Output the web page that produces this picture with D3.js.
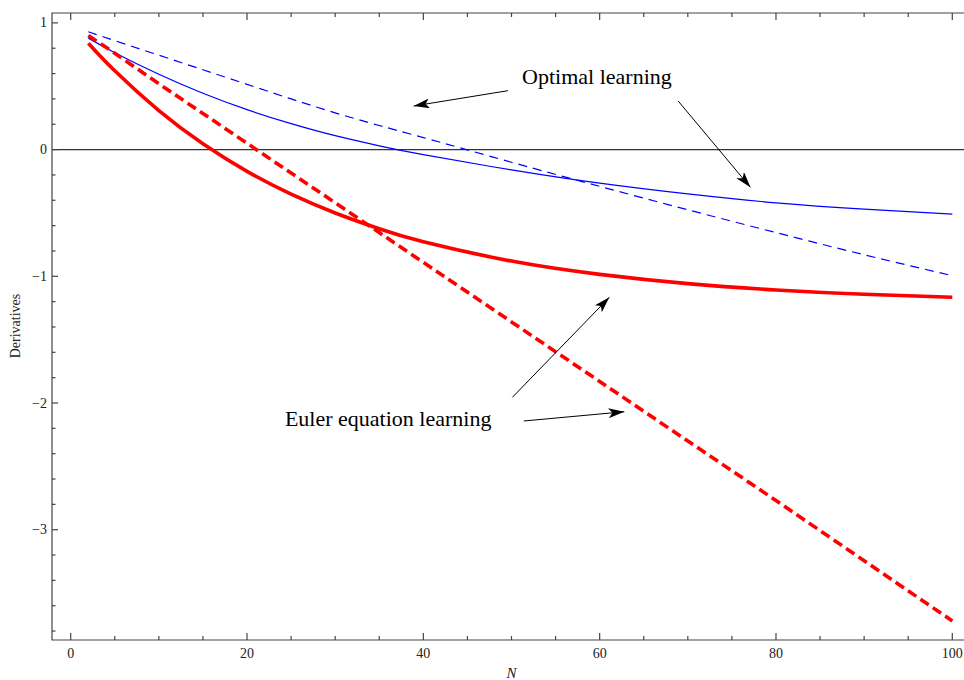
<!DOCTYPE html>
<html>
<head>
<meta charset="utf-8">
<script src="https://cdn.jsdelivr.net/npm/d3@7"></script>
<style>
  body { margin: 0; background: #fff; }
  svg { display: block; }
  text { font-family: "Liberation Serif", "Times New Roman", serif; fill: #222; }
</style>
</head>
<body>
<div id="chart"></div>
<script>
// values
const nValues = [2, 5, 10, 15, 20, 25, 30, 35, 40, 50, 60, 70, 80, 90, 100];
const optimalSolid = [0.88, 0.765, 0.595, 0.445, 0.315, 0.205, 0.11, 0.03, -0.04, -0.16, -0.265, -0.35, -0.42, -0.47, -0.51];
const optimalDashed = [0.93, 0.86, 0.745, 0.63, 0.515, 0.40, 0.29, 0.19, 0.095, -0.10, -0.29, -0.475, -0.655, -0.83, -0.995];
const eulerSolid = [0.84, 0.622, 0.308, 0.046, -0.172, -0.352, -0.50, -0.625, -0.728, -0.88, -0.985, -1.058, -1.108, -1.142, -1.165];
const eulerDashed = [0.90, 0.76, 0.52, 0.285, 0.05, -0.185, -0.42, -0.655, -0.89, -1.36, -1.83, -2.30, -2.77, -3.245, -3.72];

const xMajor = [0, 20, 40, 60, 80, 100];
const yMajor = [1, 0, -1, -2, -3];

// annotation anchors, in data units
const labels = [
    { text: "Optimal learning", n: 51.2, v: 0.52 },
    { text: "Euler equation learning", n: 24.3, v: -2.185 }
];
const arrows = [
    { from: [49.6, 0.465], to: [38.9, 0.344] },
    { from: [68.9, 0.384], to: [77.1, -0.298] },
    { from: [50.1, -1.955], to: [61.1, -1.166] },
    { from: [51.4, -2.142], to: [62.8, -2.069] }
];

const width = 964;
const height = 680;

const x = d3.scaleLinear().domain([0, 100]).range([70.7, 952.3]);
const y = d3.scaleLinear().domain([1, 0]).range([22.9, 149.6]);

const frame = { left: 52, top: 13, bottom: 640, right: 975 };

const svg = d3.select("#chart")
    .append("svg")
    .attr("width", width)
    .attr("height", height);

svg.append("rect").attr("width", width).attr("height", height).attr("fill", "#fff");

// arrowhead
svg.append("defs").append("marker")
    .attr("id", "head")
    .attr("viewBox", "0 0 16 10")
    .attr("refX", 16)
    .attr("refY", 5)
    .attr("markerWidth", 16)
    .attr("markerHeight", 10)
    .attr("markerUnits", "userSpaceOnUse")
    .attr("orient", "auto")
    .append("path")
    .attr("d", "M0,0 L16,5 L0,10 L4,5 Z")
    .attr("fill", "#000");

// zero line
svg.append("line")
    .attr("x1", frame.left).attr("x2", frame.right)
    .attr("y1", y(0)).attr("y2", y(0))
    .attr("stroke", "#333")
    .attr("stroke-width", 1.2);

// curves
const line = d3.line()
    .x((d, i) => x(nValues[i]))
    .y(d => y(d))
    .curve(d3.curveNatural);

const series = [
    { values: optimalDashed, color: "#0000ff", w: 1.2, dash: "9,6" },
    { values: optimalSolid, color: "#0000ff", w: 1.2, dash: null },
    { values: eulerDashed, color: "#ff0000", w: 3.6, dash: "10,5" },
    { values: eulerSolid, color: "#ff0000", w: 3.6, dash: null }
];

svg.selectAll("path.curve")
    .data(series)
    .enter()
    .append("path")
    .attr("class", "curve")
    .attr("d", d => line(d.values))
    .attr("fill", "none")
    .attr("stroke", d => d.color)
    .attr("stroke-width", d => d.w)
    .attr("stroke-dasharray", d => d.dash);

// frame and ticks
const g = svg.append("g").attr("stroke", "#444").attr("stroke-width", 1.2);
g.append("path")
    .attr("d", `M${frame.right},${frame.top} H${frame.left} V${frame.bottom} H${frame.right}`)
    .attr("fill", "none");

const xTicks = d3.range(0, 101, 5);
xTicks.forEach(t => {
    const len = t % 20 === 0 ? 7 : 4;
    g.append("line").attr("x1", x(t)).attr("x2", x(t))
        .attr("y1", frame.bottom).attr("y2", frame.bottom - len);
    g.append("line").attr("x1", x(t)).attr("x2", x(t))
        .attr("y1", frame.top).attr("y2", frame.top + len);
});

const yTicks = d3.range(-19, 6).map(k => k / 5);
yTicks.forEach(t => {
    const major = Math.abs(t - Math.round(t)) < 1e-9;
    g.append("line").attr("x1", frame.left).attr("x2", frame.left + (major ? 6 : 3.5))
        .attr("y1", y(t)).attr("y2", y(t));
});

svg.selectAll("text.xt")
    .data(xMajor)
    .enter()
    .append("text")
    .attr("x", d => x(d))
    .attr("y", 658)
    .attr("text-anchor", "middle")
    .style("font-size", "14px")
    .text(d => d);

svg.selectAll("text.yt")
    .data(yMajor)
    .enter()
    .append("text")
    .attr("x", 47)
    .attr("y", d => y(d) + 4.5)
    .attr("text-anchor", "end")
    .style("font-size", "14px")
    .text(d => d < 0 ? "\u2212" + Math.abs(d) : d);

svg.append("text")
    .attr("transform", `translate(20,326) rotate(-90)`)
    .attr("text-anchor", "middle")
    .style("font-size", "14px")
    .text("Derivatives");

svg.append("text")
    .attr("x", x(50))
    .attr("y", 678)
    .attr("text-anchor", "middle")
    .style("font-size", "15px")
    .style("font-style", "italic")
    .text("N");

// annotations
svg.selectAll("text.note")
    .data(labels)
    .enter()
    .append("text")
    .attr("x", d => x(d.n))
    .attr("y", d => y(d.v))
    .style("font-size", "22px")
    .style("fill", "#000")
    .text(d => d.text);

svg.selectAll("line.arrow")
    .data(arrows)
    .enter()
    .append("line")
    .attr("x1", d => x(d.from[0]))
    .attr("y1", d => y(d.from[1]))
    .attr("x2", d => x(d.to[0]))
    .attr("y2", d => y(d.to[1]))
    .attr("stroke", "#000")
    .attr("stroke-width", 1)
    .attr("marker-end", "url(#head)");
</script>
</body>
</html>
